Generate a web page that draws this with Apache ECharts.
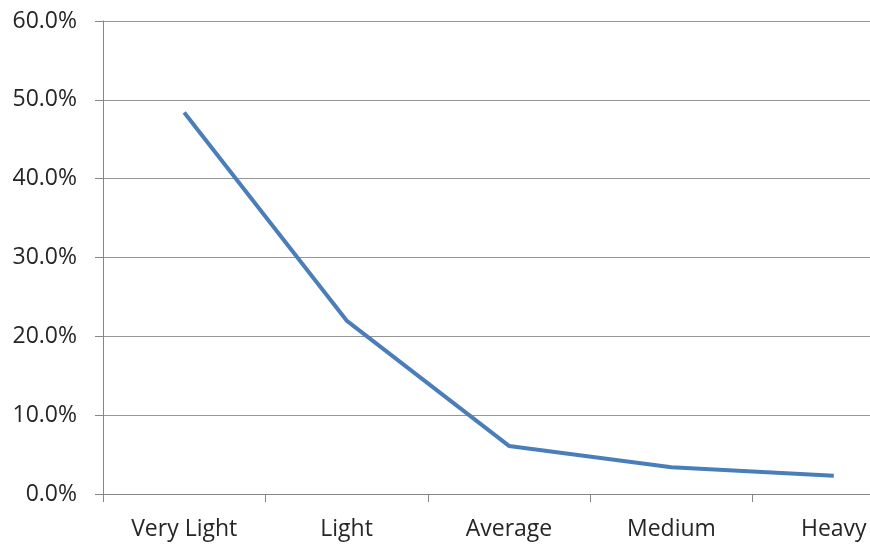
<!DOCTYPE html>
<html>
<head>
<meta charset="utf-8">
<script src="https://cdn.jsdelivr.net/npm/echarts@6/dist/echarts.min.js"></script>
<style>
html,body{margin:0;padding:0;background:#fff;}
#chart{width:870px;height:545px;}
</style>
</head>
<body>
<div id="chart"></div>
<script>
const categories = ['Very Light', 'Light', 'Average', 'Medium', 'Heavy'];
const shareValues = [48.4, 22.0, 6.1, 3.4, 2.3];
const yTickMin = 0, yTickMax = 60, yTickStep = 10;

const chart = echarts.init(document.getElementById('chart'), null, {renderer: 'canvas'});
const fontFamily = '"Open Sans", Lato, sans-serif';
chart.setOption({
  animation: false,
  backgroundColor: '#ffffff',
  grid: {left: 103, top: 21, bottom: 51, right: -45, containLabel: false, outerBoundsMode: 'none'},
  xAxis: {
    type: 'category',
    data: categories,
    boundaryGap: true,
    axisLine: {show: true, lineStyle: {color: '#868686', width: 1}},
    axisTick: {show: true, length: 8, alignWithLabel: false, lineStyle: {color: '#868686'}},
    axisLabel: {color: '#262626', fontSize: 23, fontFamily: fontFamily, margin: 24, interval: 0, hideOverlap: false},
    splitLine: {show: false}
  },
  yAxis: {
    type: 'value',
    min: yTickMin,
    max: yTickMax,
    interval: yTickStep,
    axisLine: {show: true, lineStyle: {color: '#868686', width: 1}},
    axisTick: {show: true, length: 8, lineStyle: {color: '#868686'}},
    axisLabel: {color: '#262626', fontSize: 23, fontFamily: fontFamily, margin: 26,
      formatter: v => v.toFixed(1) + '%'},
    splitLine: {show: true, lineStyle: {color: '#969696', width: 1}}
  },
  series: [{
    type: 'line',
    data: shareValues,
    symbol: 'none',
    lineStyle: {color: '#4a7ebb', width: 4},
    itemStyle: {color: '#4a7ebb'}
  }]
});
</script>
</body>
</html>
